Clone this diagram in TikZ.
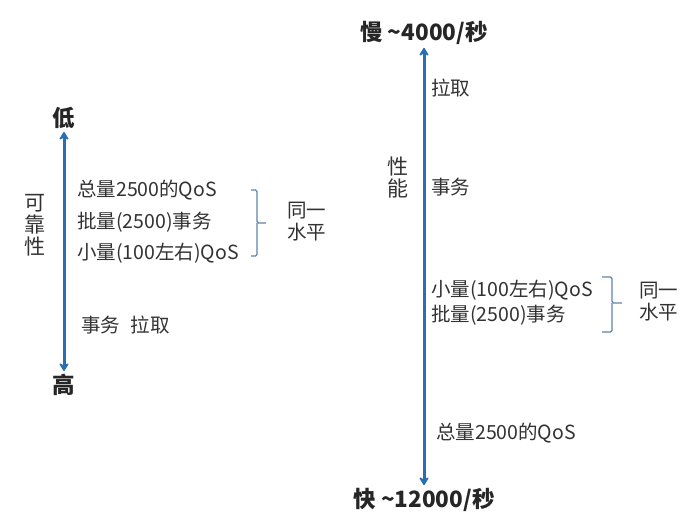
\documentclass[tikz,border=0pt]{standalone}
\usepackage{fontspec}
\setmainfont{Noto Sans CJK SC}
\usepackage{xcolor}
\usepackage{tikz}
\usetikzlibrary{arrows.meta,positioning}

\definecolor{axisblue}{RGB}{40,110,180}
\definecolor{bracegray}{RGB}{95,130,170}
\definecolor{txtgray}{RGB}{50,50,50}

\begin{document}
\begin{tikzpicture}[x=1pt,y=-1pt,>={Stealth[length=10pt,width=12pt,inset=4pt,round]},
    every node/.style={inner sep=1pt,text=txtgray,font=\fontsize{19.5}{22}\selectfont},
    endlbl/.style={font=\fontsize{22.5}{26}\selectfont\bfseries,text=black!85},
    item/.style={anchor=west},
    vlbl/.style={align=center,font=\fontsize{21}{22}\selectfont},
    axis/.style={<->,line width=3pt,draw=axisblue},
    bracket/.style={draw=bracegray,line width=1.2pt,rounded corners=1.5pt}]
  \useasboundingbox (0,0) rectangle (690,518);
  % reliability axis
  \node[endlbl] (low) at (64,118) {低};
  \node[endlbl] (high) at (64,385) {高};
  \draw[axis,shorten <=2pt,shorten >=2pt] (low) -- (high);
  \node[vlbl] (rel) at (35,225) {可\\靠\\性};
  \node[item] (l1) at (76,190) {总量2500的QoS};
  \node[item] (l2) at (76,222) {批量(2500)事务};
  \node[item] (l3) at (76,253) {小量(100左右)QoS};
  \node[item] (l4) at (80,325) {事务\hspace{0.55em}拉取};
  \coordinate (lbtop) at (251,190);
  \coordinate (lbbot) at (251,256);
  \coordinate (lbmid) at (257,223);
  \draw[bracket] (lbtop) -| (lbmid) -- ++(9,0);
  \draw[bracket] (lbbot) -| (lbmid);
  \node[item,align=left] (lsame) at (286,222) {同一\\水平};
  % performance axis
  \node[endlbl] (slow) at (424,33) {慢 \textasciitilde4000/秒};
  \node[endlbl] (fast) at (424,500) {快 \textasciitilde12000/秒};
  \draw[axis,shorten <=2pt,shorten >=2pt] (slow) -- (fast);
  \node[vlbl] (perf) at (398,178) {性\\能};
  \node[item] (r1) at (430,88) {拉取};
  \node[item] (r2) at (430,187) {事务};
  \node[item] (r3) at (430,290) {小量(100左右)QoS};
  \node[item] (r4) at (430,315) {批量(2500)事务};
  \node[item] (r5) at (435,433) {总量2500的QoS};
  \coordinate (rbtop) at (602,277);
  \coordinate (rbbot) at (602,332);
  \coordinate (rbmid) at (612,303);
  \draw[bracket] (rbtop) -| (rbmid) -- ++(10,0);
  \draw[bracket] (rbbot) -| (rbmid);
  \node[item,align=left] (rsame) at (638,302) {同一\\水平};
\end{tikzpicture}
\end{document}
